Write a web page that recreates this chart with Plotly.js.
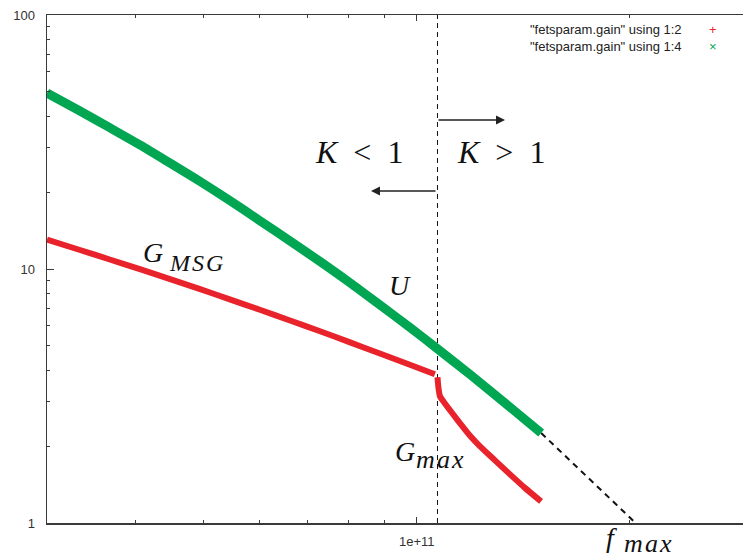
<!DOCTYPE html>
<html><head><meta charset="utf-8">
<script src="https://cdn.plot.ly/plotly-3.0.1.min.js"></script>
<style>html,body{margin:0;padding:0;background:#fff;overflow:hidden}</style>
</head><body><div id="chart" style="width:743px;height:559px"></div>
<script>
// ---- data ----
// column 1 : frequency (Hz)
const freqMSG  = [3.0e10, 3.34e10, 3.68e10, 4.06e10, 4.48e10, 4.94e10, 5.44e10, 6.0e10, 6.62e10, 7.3e10, 8.05e10, 8.87e10, 9.78e10, 1.061e11];
// column 2 : G_MSG  (K < 1)
const gainMSG  = [13.04, 11.88, 10.90, 9.98, 9.12, 8.33, 7.59, 6.91, 6.27, 5.69, 5.14, 4.65, 4.20, 3.85];
const freqMax  = [1.070e11, 1.0736e11, 1.0788e11, 1.093e11, 1.1146e11, 1.1516e11, 1.1897e11, 1.229e11, 1.2904e11, 1.3551e11, 1.4225e11, 1.4994e11];
// column 2 : G_max  (K > 1)
const gainMax  = [3.747, 3.391, 3.155, 2.987, 2.778, 2.469, 2.204, 2.003, 1.765, 1.554, 1.375, 1.216];
const freqU    = [3.0e10, 3.34e10, 3.68e10, 4.06e10, 4.48e10, 4.94e10, 5.44e10, 6.0e10, 6.62e10, 7.3e10, 8.05e10, 8.87e10, 9.78e10, 1.068e11, 1.19e11, 1.312e11, 1.5e11];
// column 4 : U (unilateral gain)
const gainU    = [49.3, 41.9, 36.0, 30.8, 26.1, 22.1, 18.6, 15.5, 12.9, 10.7, 8.82, 7.22, 5.89, 4.87, 3.84, 3.08, 2.26];
// extrapolation of U down to f_max
const extrapF  = [1.5e11, 2.04e11];
const extrapG  = [2.26, 1.0];
// K = 1 boundary
const boundaryF = [1.07e11, 1.07e11];
const boundaryG = [1, 100];
// ticks
const xTickVals = [1e11];
const xTickText = ['1e+11'];
const xMinorVals = [4e10, 5e10, 6e10, 7e10, 8e10, 9e10, 2e11];
const yTickVals = [1, 10, 100];
const yTickText = ['1', '10', '100'];
const yMinorVals = [2, 3, 4, 5, 6, 7, 8, 9, 20, 30, 40, 50, 60, 70, 80, 90];
const legendNames = ['"fetsparam.gain" using 1:2', '"fetsparam.gain" using 1:4'];

// ---- styling ----
const RED = '#e8232b', GREEN = '#00a651', AX = '#3a3a3a';
const L = 47, T = 15, W = 696, H = 508;
const P = px => (px - L) / W;
const Q = py => (T + H - py) / H;

const traces = [
  {x: boundaryF, y: boundaryG, mode: 'lines', line: {color: '#111', width: 1, dash: '5px,4px'}, hoverinfo: 'skip'},
  {x: extrapF, y: extrapG, mode: 'lines', line: {color: '#111', width: 2, dash: '6px,5px'}, hoverinfo: 'skip'},
  {x: freqU, y: gainU, mode: 'lines', line: {color: GREEN, width: 9, shape: 'spline', smoothing: 0.8}},
  {x: freqMSG, y: gainMSG, mode: 'lines', line: {color: RED, width: 6, shape: 'spline', smoothing: 0.8}},
  {x: freqMax, y: gainMax, mode: 'lines', line: {color: RED, width: 6, shape: 'spline', smoothing: 0.6}}
];

const serif = 'Liberation Serif, Times New Roman, serif';
const sans = 'Liberation Sans, Arial, sans-serif';
const ann = [];
function label(text, px, py, size, xanchor) {
  ann.push({xref: 'paper', yref: 'paper', x: P(px), y: Q(py), text: text, showarrow: false,
            xanchor: xanchor || 'center', yanchor: 'middle', font: {family: serif, size: size, color: '#111'}});
}
label('<i>K</i>&nbsp; &lt; &nbsp;1', 359, 152, 32);
label('<i>K</i>&nbsp; &gt; &nbsp;1', 501, 152, 32);
// G_MSG
label('<i>G</i>', 141, 253, 28, 'left');
label('<i>M&#8202;S&#8202;G</i>', 167, 263, 24, 'left');
// U
label('<i>U</i>', 400, 285, 28);
// G_max
label('<i>G</i>', 393, 451, 28, 'left');
label('<i>m&#8202;a&#8202;x</i>', 414, 459, 26, 'left');
// f_max
label('<i>f</i>', 604, 537, 28, 'left');
label('<i>m&#8202;a&#8202;x</i>', 622, 543, 26, 'left');

function arrow(hx, hy, tx, ty) {
  ann.push({xref: 'paper', yref: 'paper', x: P(hx), y: Q(hy), ax: tx - hx, ay: ty - hy, text: '',
            showarrow: true, arrowhead: 2, arrowsize: 1.2, arrowwidth: 1.5, arrowcolor: '#222', standoff: 0, startstandoff: 0});
}
arrow(505, 120, 437, 120);
arrow(371, 191, 437, 191);

// key (gnuplot style: text right-justified, sample on the right)
const keySym = ['+', '×'];
const keyCol = [RED, GREEN];
ann.push({xref: 'paper', yref: 'paper', x: P(683), y: Q(37.5), text: legendNames.join('<br>'), showarrow: false,
          xanchor: 'right', yanchor: 'middle', align: 'right', borderpad: 0,
          font: {family: sans, size: 13, color: '#222'}});
ann.push({xref: 'paper', yref: 'paper', x: P(713), y: Q(37.5),
          text: keySym.map((s, i) => '<span style="color:' + keyCol[i] + '">' + s + '</span>').join('<br>'),
          showarrow: false, xanchor: 'center', yanchor: 'middle', align: 'center', borderpad: 0,
          font: {family: sans, size: 13, color: RED}});

const layout = {
  width: 743, height: 559,
  margin: {l: L, r: 0, t: T, b: 559 - T - H, pad: 0},
  paper_bgcolor: '#fff', plot_bgcolor: '#fff',
  showlegend: false,
  xaxis: {
    type: 'log', range: [Math.log10(3e10), 11.4615], showgrid: false, zeroline: false,
    showline: true, linecolor: AX, linewidth: 1.5, mirror: 'ticks',
    ticks: 'inside', ticklen: 6, tickwidth: 1, tickcolor: AX,
    tickmode: 'array', tickvals: xTickVals, ticktext: xTickText,
    tickfont: {family: sans, size: 13, color: '#333'}, ticklabelstandoff: 6,
    minor: {tickmode: 'array', tickvals: xMinorVals, ticks: 'inside', ticklen: 3, tickwidth: 1, tickcolor: AX, showgrid: false}
  },
  yaxis: {
    type: 'log', range: [0, 2], showgrid: false, zeroline: false,
    showline: true, linecolor: AX, linewidth: 1.5, mirror: false,
    ticks: 'inside', ticklen: 7, tickwidth: 1, tickcolor: AX,
    tickmode: 'array', tickvals: yTickVals, ticktext: yTickText,
    tickfont: {family: sans, size: 13, color: '#333'}, ticklabelstandoff: 8,
    minor: {tickmode: 'array', tickvals: yMinorVals, ticks: 'inside', ticklen: 3, tickwidth: 1, tickcolor: AX, showgrid: false}
  },
  annotations: ann
};

Plotly.newPlot('chart', traces, layout, {displayModeBar: false, staticPlot: true});
</script>
</body></html>
